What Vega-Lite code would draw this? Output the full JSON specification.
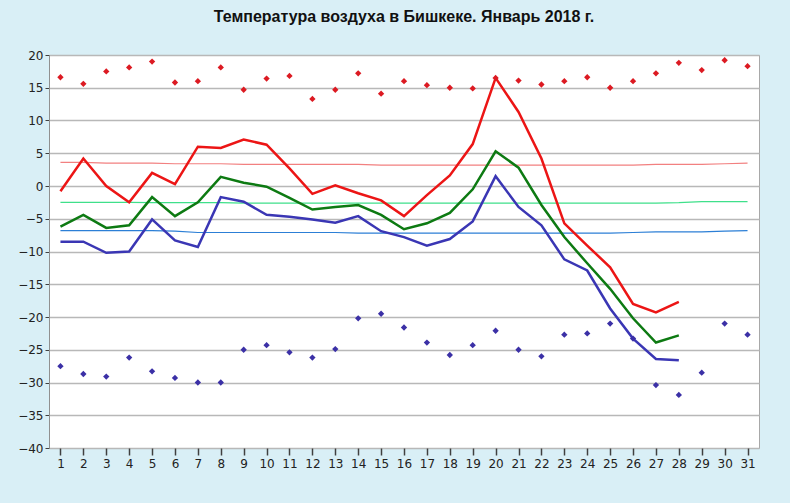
{
  "$schema": "https://vega.github.io/schema/vega-lite/v6.json",
  "width": 710,
  "height": 393,
  "autosize": {"type": "none"},
  "padding": {"left": 49, "top": 55, "right": 31, "bottom": 55},
  "background": "#d9eff6",
  "title": {
    "text": "Температура воздуха в Бишкеке. Январь 2018 г.",
    "font": "Liberation Sans",
    "fontSize": 16,
    "fontWeight": "bold",
    "color": "#111111",
    "anchor": "middle",
    "offset": 24
  },
  "config": {
    "view": {"fill": "white", "stroke": "#a8a8a8", "strokeWidth": 1},
    "axis": {
      "labelFont": "DejaVu Sans",
      "labelFontSize": 12,
      "labelColor": "#222222",
      "domainColor": "#909090",
      "tickColor": "#404040",
      "gridColor": "#b8b8b8",
      "gridWidth": 1.5,
      "title": null
    }
  },
  "data": {
    "values": [
      {"day": 1, "tmax": -0.8, "tmean": -6.2, "tmin": -8.5, "nmax": 3.6, "nmean": -2.5, "nmin": -6.8, "recmax": 16.6, "recmin": -27.5},
      {"day": 2, "tmax": 4.2, "tmean": -4.4, "tmin": -8.5, "nmax": 3.6, "nmean": -2.5, "nmin": -6.8, "recmax": 15.6, "recmin": -28.7},
      {"day": 3, "tmax": 0.0, "tmean": -6.4, "tmin": -10.2, "nmax": 3.5, "nmean": -2.5, "nmin": -6.8, "recmax": 17.5, "recmin": -29.1},
      {"day": 4, "tmax": -2.5, "tmean": -6.0, "tmin": -10.0, "nmax": 3.5, "nmean": -2.5, "nmin": -6.8, "recmax": 18.1, "recmin": -26.2},
      {"day": 5, "tmax": 2.0, "tmean": -1.7, "tmin": -5.1, "nmax": 3.5, "nmean": -2.55, "nmin": -6.8, "recmax": 19.0, "recmin": -28.3},
      {"day": 6, "tmax": 0.3, "tmean": -4.6, "tmin": -8.3, "nmax": 3.4, "nmean": -2.55, "nmin": -6.9, "recmax": 15.8, "recmin": -29.3},
      {"day": 7, "tmax": 6.0, "tmean": -2.5, "tmin": -9.3, "nmax": 3.4, "nmean": -2.55, "nmin": -7.1, "recmax": 16.0, "recmin": -30.0},
      {"day": 8, "tmax": 5.8, "tmean": 1.4, "tmin": -1.7, "nmax": 3.4, "nmean": -2.55, "nmin": -7.1, "recmax": 18.1, "recmin": -30.0},
      {"day": 9, "tmax": 7.1, "tmean": 0.5, "tmin": -2.4, "nmax": 3.3, "nmean": -2.6, "nmin": -7.1, "recmax": 14.7, "recmin": -25.0},
      {"day": 10, "tmax": 6.3, "tmean": -0.1, "tmin": -4.4, "nmax": 3.3, "nmean": -2.6, "nmin": -7.1, "recmax": 16.4, "recmin": -24.3},
      {"day": 11, "tmax": 2.7, "tmean": -1.8, "tmin": -4.7, "nmax": 3.3, "nmean": -2.6, "nmin": -7.1, "recmax": 16.8, "recmin": -25.4},
      {"day": 12, "tmax": -1.2, "tmean": -3.6, "tmin": -5.1, "nmax": 3.3, "nmean": -2.6, "nmin": -7.1, "recmax": 13.3, "recmin": -26.2},
      {"day": 13, "tmax": 0.1, "tmean": -3.2, "tmin": -5.6, "nmax": 3.3, "nmean": -2.6, "nmin": -7.1, "recmax": 14.7, "recmin": -24.9},
      {"day": 14, "tmax": -1.1, "tmean": -2.9, "tmin": -4.6, "nmax": 3.3, "nmean": -2.6, "nmin": -7.2, "recmax": 17.2, "recmin": -20.2},
      {"day": 15, "tmax": -2.2, "tmean": -4.4, "tmin": -6.9, "nmax": 3.2, "nmean": -2.6, "nmin": -7.2, "recmax": 14.1, "recmin": -19.5},
      {"day": 16, "tmax": -4.6, "tmean": -6.6, "tmin": -7.8, "nmax": 3.2, "nmean": -2.6, "nmin": -7.2, "recmax": 16.0, "recmin": -21.6},
      {"day": 17, "tmax": -1.4, "tmean": -5.7, "tmin": -9.1, "nmax": 3.2, "nmean": -2.6, "nmin": -7.2, "recmax": 15.4, "recmin": -23.9},
      {"day": 18, "tmax": 1.6, "tmean": -4.1, "tmin": -8.1, "nmax": 3.2, "nmean": -2.6, "nmin": -7.2, "recmax": 15.0, "recmin": -25.8},
      {"day": 19, "tmax": 6.4, "tmean": -0.5, "tmin": -5.4, "nmax": 3.2, "nmean": -2.6, "nmin": -7.2, "recmax": 14.9, "recmin": -24.3},
      {"day": 20, "tmax": 16.5, "tmean": 5.3, "tmin": 1.5, "nmax": 3.2, "nmean": -2.6, "nmin": -7.2, "recmax": 16.5, "recmin": -22.1},
      {"day": 21, "tmax": 11.3, "tmean": 2.8, "tmin": -3.2, "nmax": 3.2, "nmean": -2.6, "nmin": -7.2, "recmax": 16.1, "recmin": -25.0},
      {"day": 22, "tmax": 4.2, "tmean": -2.9, "tmin": -6.0, "nmax": 3.2, "nmean": -2.6, "nmin": -7.2, "recmax": 15.5, "recmin": -26.0},
      {"day": 23, "tmax": -5.7, "tmean": -7.8, "tmin": -11.2, "nmax": 3.2, "nmean": -2.6, "nmin": -7.2, "recmax": 16.0, "recmin": -22.7},
      {"day": 24, "tmax": -9.1, "tmean": -11.8, "tmin": -12.9, "nmax": 3.2, "nmean": -2.6, "nmin": -7.2, "recmax": 16.6, "recmin": -22.5},
      {"day": 25, "tmax": -12.4, "tmean": -15.7, "tmin": -18.7, "nmax": 3.2, "nmean": -2.6, "nmin": -7.2, "recmax": 15.0, "recmin": -21.0},
      {"day": 26, "tmax": -18.0, "tmean": -20.2, "tmin": -23.3, "nmax": 3.2, "nmean": -2.6, "nmin": -7.1, "recmax": 16.0, "recmin": -23.3},
      {"day": 27, "tmax": -19.3, "tmean": -23.9, "tmin": -26.4, "nmax": 3.3, "nmean": -2.6, "nmin": -7.0, "recmax": 17.2, "recmin": -30.4},
      {"day": 28, "tmax": -17.7, "tmean": -22.8, "tmin": -26.6, "nmax": 3.3, "nmean": -2.55, "nmin": -7.0, "recmax": 18.8, "recmin": -31.9},
      {"day": 29, "tmax": null, "tmean": null, "tmin": null, "nmax": 3.3, "nmean": -2.4, "nmin": -7.0, "recmax": 17.7, "recmin": -28.5},
      {"day": 30, "tmax": null, "tmean": null, "tmin": null, "nmax": 3.4, "nmean": -2.4, "nmin": -6.9, "recmax": 19.2, "recmin": -21.0},
      {"day": 31, "tmax": null, "tmean": null, "tmin": null, "nmax": 3.5, "nmean": -2.4, "nmin": -6.8, "recmax": 18.3, "recmin": -22.7}
    ]
  },
  "transform": [
    {"fold": ["nmax", "nmean", "nmin", "tmin", "tmean", "tmax", "recmax", "recmin"], "as": ["series", "value"]}
  ],
  "encoding": {
    "x": {
      "field": "day",
      "type": "quantitative",
      "scale": {"domain": [0.5, 31.5], "nice": false, "zero": false},
      "axis": {
        "values": [1,2,3,4,5,6,7,8,9,10,11,12,13,14,15,16,17,18,19,20,21,22,23,24,25,26,27,28,29,30,31],
        "grid": false,
        "tickSize": 7,
        "tickWidth": 1.5,
        "labelPadding": 3,
        "domain": false
      }
    },
    "y": {
      "field": "value",
      "type": "quantitative",
      "scale": {"domain": [-40, 20], "nice": false, "zero": false},
      "axis": {
        "values": [-40,-35,-30,-25,-20,-15,-10,-5,0,5,10,15,20],
        "grid": true,
        "tickSize": 4,
        "labelPadding": 2,
        "labelOverlap": false,
        "domain": true
      }
    }
  },
  "layer": [
    {"transform": [{"filter": "datum.series === 'nmax'"}], "mark": {"type": "line", "color": "#f28080", "strokeWidth": 1.2}},
    {"transform": [{"filter": "datum.series === 'nmean'"}], "mark": {"type": "line", "color": "#3fe08a", "strokeWidth": 1.2}},
    {"transform": [{"filter": "datum.series === 'nmin'"}], "mark": {"type": "line", "color": "#2c7fd6", "strokeWidth": 1.2}},
    {"transform": [{"filter": "datum.series === 'tmin'"}], "mark": {"type": "line", "color": "#3a36b4", "strokeWidth": 2.5}},
    {"transform": [{"filter": "datum.series === 'tmean'"}], "mark": {"type": "line", "color": "#0d7a12", "strokeWidth": 2.5}},
    {"transform": [{"filter": "datum.series === 'tmax'"}], "mark": {"type": "line", "color": "#ec1515", "strokeWidth": 2.5}},
    {"transform": [{"filter": "datum.series === 'recmax'"}], "mark": {"type": "point", "shape": "diamond", "filled": true, "size": 40, "color": "#dc1a22", "opacity": 1}},
    {"transform": [{"filter": "datum.series === 'recmin'"}], "mark": {"type": "point", "shape": "diamond", "filled": true, "size": 40, "color": "#3b30a6", "opacity": 1}}
  ]
}
